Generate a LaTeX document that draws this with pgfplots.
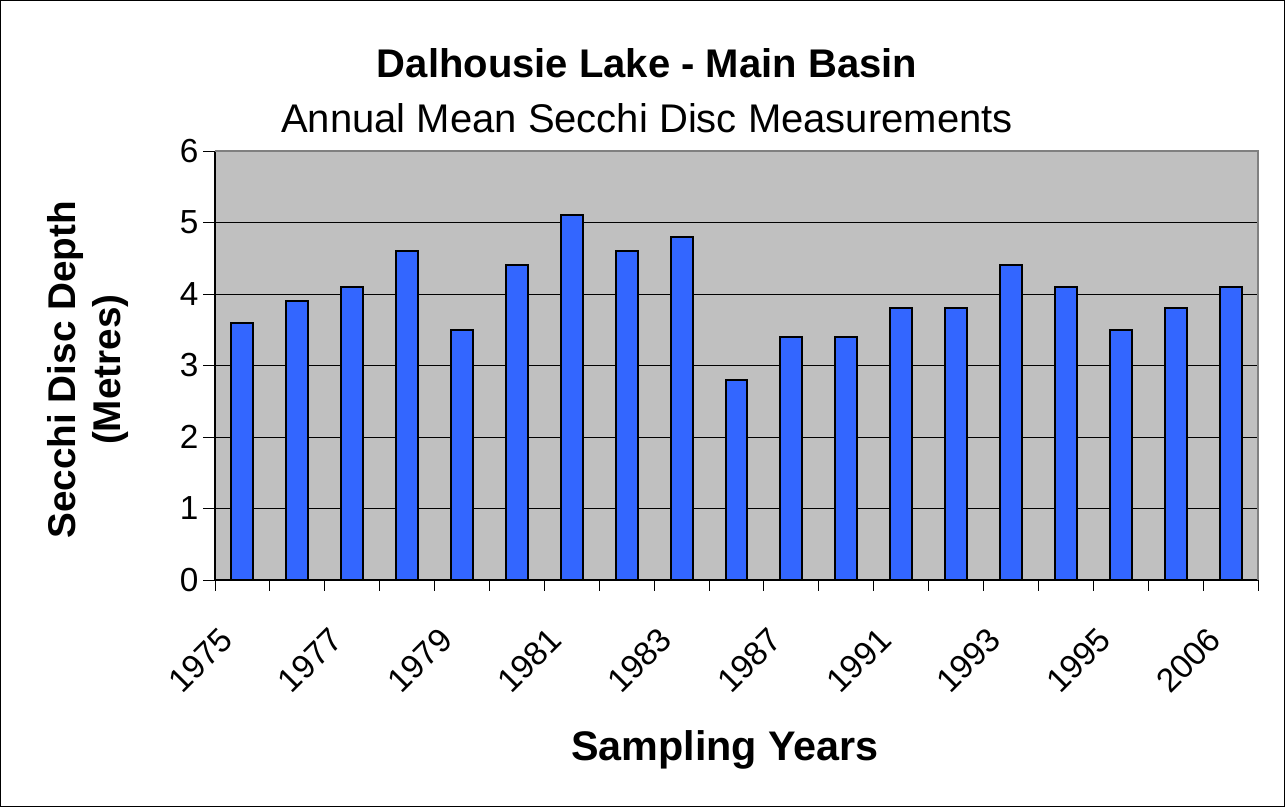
\documentclass[border=0pt]{standalone}
\usepackage{fontspec}
\setmainfont{Liberation Sans}
\usepackage{pgfplots}
\usepackage{pgfplotstable}
\pgfplotsset{compat=1.18}

\definecolor{plotbg}{HTML}{C0C0C0}
\definecolor{barblue}{HTML}{3366FF}
\definecolor{frameg}{HTML}{808080}

% annual mean Secchi depth, one row per sampled year (x = category index)
\pgfplotstableread{
x  depth
0  3.6
1  3.9
2  4.1
3  4.6
4  3.5
5  4.4
6  5.1
7  4.6
8  4.8
9  2.8
10 3.4
11 3.4
12 3.8
13 3.8
14 4.4
15 4.1
16 3.5
17 3.8
18 4.1
}\secchi

\begin{document}
\begin{tikzpicture}
\draw[black, line width=0.75pt] (0.375pt,0.375pt) rectangle (963.375pt,604.875pt);
\begin{axis}[
    at={(161.25pt,170.25pt)}, anchor=south west,
    scale only axis, width=782.25pt, height=321.75pt,
    xmin=-0.5, xmax=18.5, ymin=0, ymax=6,
    ytick={0,...,6},
    xtick={0,2,...,18},
    xticklabels={1975,1977,1979,1981,1983,1987,1991,1993,1995,2006},
    minor xtick={-0.5,0.5,...,18.5},
    tick align=outside,
    major tick length=9pt, minor tick length=8pt,
    major x tick style={draw=none},
    tick style={black, line width=0.75pt},
    axis x line*=bottom, axis y line*=left,
    axis line style={black, line width=1.1pt, -},
    axis background/.style={fill=plotbg},
    ymajorgrids, grid style={black, line width=0.75pt},
    clip=false,
    /pgf/number format/assume math mode=true,
    yticklabel style={font=\fontsize{25}{30}\selectfont},
    xticklabel style={font=\fontsize{25}{30}\selectfont,
        xshift=-9.5pt, yshift=-29pt, rotate=45, anchor=east},
    xlabel={Sampling Years},
    xlabel style={at={(axis description cs:0.489,-0.42)}, anchor=base,
        font=\fontsize{31}{36}\selectfont\bfseries},
    ylabel={Secchi Disc Depth\\(Metres)},
    ylabel style={at={(axis description cs:-0.122,0.49)}, anchor=center,
        align=center, font=\fontsize{29}{34}\selectfont\bfseries},
]
\addplot[ybar, bar width=0.4, fill=barblue, draw=black, line width=1.5pt]
    table[x=x, y=depth] {\secchi};
\draw[frameg, line width=1.5pt] (rel axis cs:0,1) -- (rel axis cs:1,1) -- (rel axis cs:1,0);
\end{axis}
\node[anchor=base, font=\fontsize{30}{36}\selectfont\bfseries] at (485.25pt,546.75pt) {Dalhousie Lake - Main Basin};
\node[anchor=base, font=\fontsize{30}{36}\selectfont] at (485.25pt,505.5pt) {Annual Mean Secchi Disc Measurements};
\end{tikzpicture}
\end{document}
